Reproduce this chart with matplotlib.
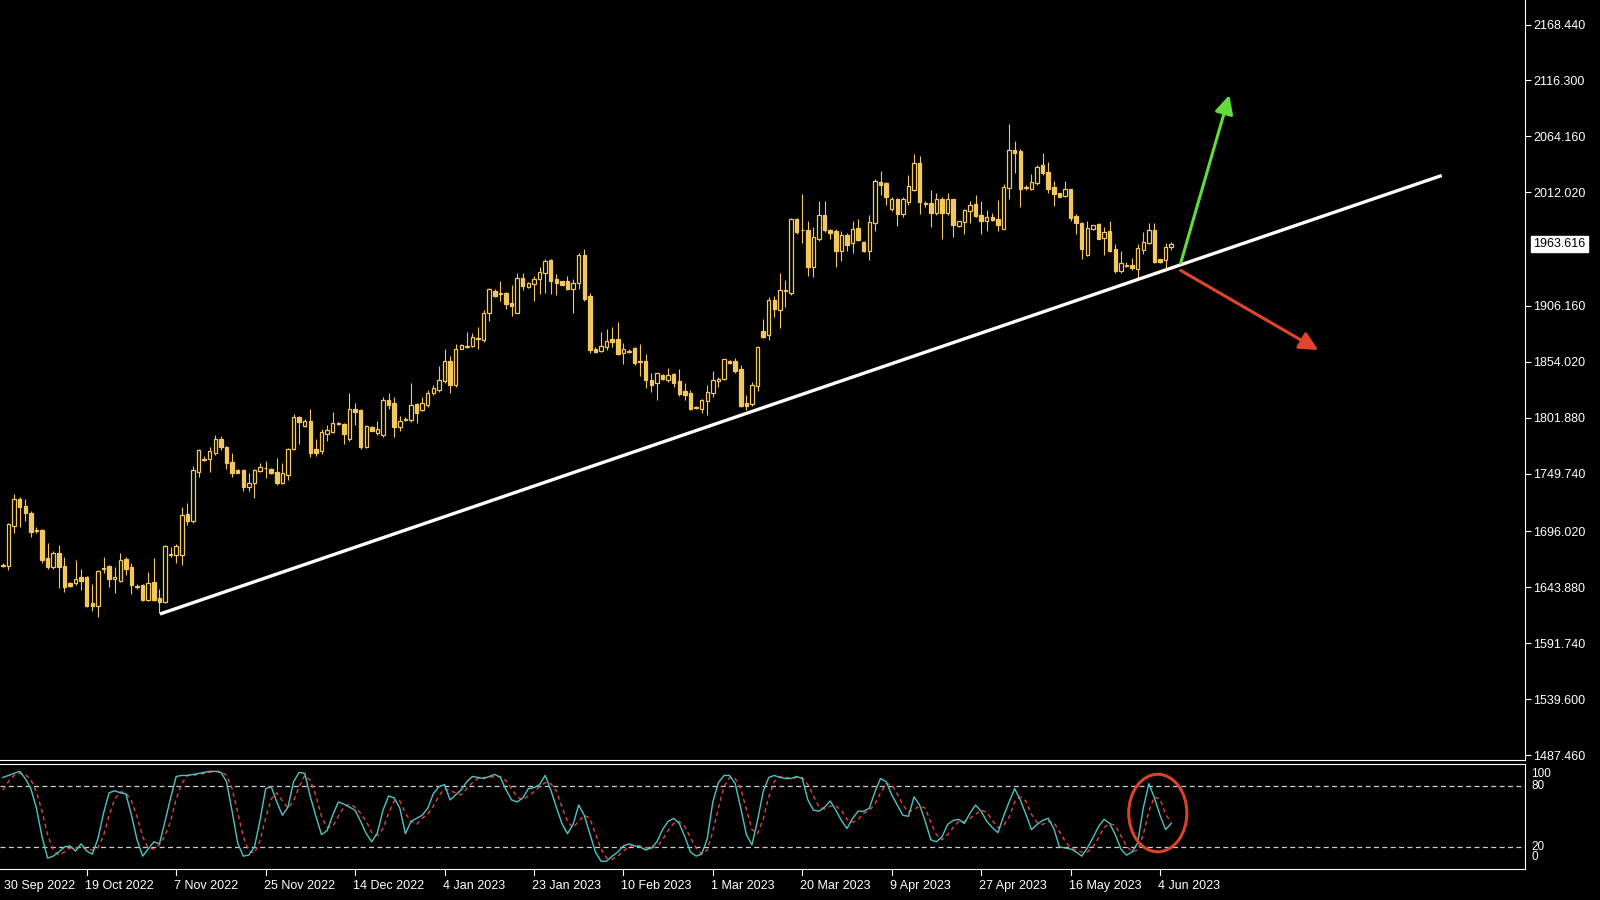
"""Gold daily chart with rising trendline and stochastic oscillator (MT4 look)."""

import matplotlib
matplotlib.use("Agg")
from matplotlib import pyplot as plt
from matplotlib.patches import Ellipse
from matplotlib.transforms import blended_transform_factory, offset_copy
import numpy as np

# ---- data --------------------------------------------------------------
first_bar = 1  # bar 0 is the 30 Sep 2022 candle, just off the left edge

opens = [
    1663.6, 1663.6, 1700.9, 1726.4, 1719.5, 1713.3, 1696.6, 1697.2, 1670.8, 1663.0,
    1675.4, 1663.9, 1648.1, 1647.5, 1653.1, 1653.7, 1628.8, 1626.3, 1661.8, 1663.6,
    1651.8, 1649.3, 1669.8, 1662.4, 1645.0, 1645.6, 1631.9, 1648.7, 1633.8, 1630.1,
    1673.6, 1674.2, 1674.2, 1712.1, 1705.9, 1751.6, 1762.5, 1763.1, 1769.3, 1782.4,
    1774.9, 1760.6, 1753.2, 1753.2, 1737.6, 1740.7, 1751.9, 1754.7, 1754.4, 1751.6,
    1740.7, 1748.2, 1772.4, 1802.9, 1794.2, 1799.1, 1772.4, 1770.6, 1786.7, 1788.6,
    1796.3, 1796.0, 1781.7, 1810.3, 1809.1, 1774.3, 1792.9, 1787.3, 1785.8, 1818.4,
    1815.3, 1792.9, 1800.1, 1799.8, 1814.7, 1809.1, 1813.4, 1824.6, 1827.7, 1836.4,
    1855.1, 1832.1, 1866.3, 1868.1, 1868.7, 1875.6, 1874.4, 1899.2, 1920.3, 1917.8,
    1918.4, 1909.1, 1899.8, 1932.1, 1923.4, 1926.6, 1931.5, 1936.5, 1948.9, 1931.5,
    1929.6, 1929.0, 1922.2, 1927.2, 1953.3, 1915.4, 1866.3, 1864.4, 1868.1, 1875.6,
    1875.6, 1861.9, 1863.1, 1866.9, 1854.1, 1854.4, 1837.0, 1834.6, 1842.0, 1837.0,
    1842.6, 1835.8, 1826.5, 1825.2, 1811.3, 1810.3, 1817.1, 1825.2, 1836.4, 1837.7,
    1855.0, 1854.4, 1847.0, 1815.9, 1814.7, 1831.4, 1883.0, 1878.7, 1911.6, 1902.3,
    1920.3, 1918.5, 1986.8, 1976.6, 1976.9, 1942.7, 1968.8, 1991.2, 1976.9, 1975.6,
    1957.0, 1972.5, 1964.5, 1978.7, 1965.7, 1957.0, 1983.7, 2021.6, 2020.4, 1996.1,
    2005.5, 1991.8, 2003.0, 2014.2, 2039.6, 2002.0, 2002.4, 1992.4, 2005.5, 1993.0,
    2005.5, 1980.6, 1984.3, 1994.9, 2001.1, 1990.5, 1985.0, 1989.3, 1987.4, 1978.1,
    2016.0, 2051.5, 2050.2, 2016.3, 2015.4, 2020.4, 2037.2, 2030.9, 2016.7, 2011.1,
    2008.6, 2014.8, 1989.9, 1983.1, 1953.9, 1977.5, 1982.5, 1969.4, 1975.6, 1959.5,
    1938.4, 1943.6, 1944.0, 1940.8, 1958.2, 1965.1, 1976.9, 1949.5, 1948.9, 1960.7,
]
highs = [
    1666.1, 1704.0, 1730.7, 1728.2, 1725.8, 1714.6, 1700.3, 1697.8, 1684.7, 1677.9,
    1682.9, 1671.7, 1648.7, 1669.2, 1660.5, 1654.3, 1646.8, 1659.9, 1671.7, 1664.5,
    1663.0, 1675.4, 1671.7, 1666.7, 1646.8, 1646.8, 1658.0, 1671.1, 1642.5, 1682.9,
    1681.0, 1684.1, 1718.3, 1722.7, 1756.9, 1773.1, 1766.2, 1774.9, 1786.1, 1784.9,
    1775.5, 1768.7, 1753.8, 1753.8, 1750.1, 1753.8, 1759.4, 1761.9, 1755.0, 1764.3,
    1759.4, 1773.7, 1805.4, 1803.5, 1800.4, 1809.7, 1781.7, 1791.1, 1795.4, 1807.2,
    1797.9, 1796.7, 1824.6, 1815.3, 1809.7, 1794.8, 1794.2, 1799.1, 1820.9, 1824.6,
    1821.5, 1803.5, 1802.9, 1833.9, 1815.3, 1821.5, 1827.7, 1832.1, 1850.1, 1866.3,
    1859.4, 1870.6, 1870.6, 1881.8, 1880.6, 1886.2, 1902.3, 1922.8, 1921.6, 1929.0,
    1919.1, 1925.9, 1936.5, 1937.1, 1928.4, 1934.0, 1942.7, 1949.5, 1950.2, 1935.9,
    1929.6, 1934.0, 1930.9, 1955.7, 1958.9, 1917.8, 1868.1, 1881.8, 1884.9, 1886.7,
    1891.1, 1871.8, 1865.6, 1868.1, 1870.6, 1861.3, 1843.3, 1843.9, 1842.6, 1848.2,
    1843.3, 1847.0, 1833.9, 1827.7, 1812.8, 1819.6, 1832.1, 1845.1, 1839.5, 1856.9,
    1855.7, 1857.5, 1851.3, 1823.4, 1835.2, 1868.7, 1893.6, 1914.7, 1915.4, 1937.1,
    1930.3, 1988.1, 1988.1, 2010.4, 1985.0, 1979.4, 2003.6, 2003.6, 1977.5, 1978.1,
    1976.3, 1973.8, 1985.0, 1987.4, 1966.9, 1990.5, 2024.7, 2032.2, 2021.6, 2007.3,
    2006.7, 2007.3, 2027.8, 2047.7, 2045.9, 2003.6, 2014.2, 2011.7, 2008.0, 2011.7,
    2005.5, 1985.6, 1996.7, 2003.6, 2009.8, 2003.6, 1995.5, 1992.4, 2004.8, 2019.8,
    2075.7, 2059.5, 2052.7, 2018.5, 2029.1, 2037.2, 2048.4, 2040.3, 2022.9, 2011.7,
    2022.9, 2015.4, 1991.8, 1984.3, 1985.0, 1981.9, 1983.1, 1979.4, 1985.0, 1963.8,
    1957.6, 1947.1, 1950.8, 1963.8, 1975.0, 1983.1, 1983.1, 1950.2, 1964.5, 1965.7,
]
lows = [
    1662.4, 1659.9, 1694.7, 1700.3, 1705.9, 1690.3, 1694.1, 1666.1, 1661.1, 1661.1,
    1642.8, 1639.4, 1643.7, 1645.6, 1641.2, 1625.7, 1622.0, 1616.4, 1656.8, 1643.7,
    1638.1, 1648.7, 1654.9, 1637.5, 1642.5, 1631.3, 1631.3, 1631.3, 1619.5, 1629.4,
    1672.3, 1666.1, 1664.9, 1701.5, 1704.0, 1747.0, 1761.2, 1751.6, 1766.8, 1771.8,
    1753.8, 1747.0, 1750.1, 1733.9, 1733.9, 1726.7, 1751.3, 1745.4, 1749.4, 1739.2,
    1740.1, 1743.8, 1771.8, 1777.4, 1792.9, 1765.0, 1766.2, 1768.1, 1780.5, 1787.3,
    1795.4, 1777.4, 1780.5, 1795.1, 1772.4, 1773.7, 1789.2, 1785.8, 1784.2, 1810.3,
    1783.6, 1789.8, 1798.5, 1798.2, 1796.7, 1808.5, 1812.2, 1822.8, 1825.9, 1833.9,
    1825.2, 1830.9, 1865.6, 1866.9, 1867.5, 1866.3, 1872.5, 1892.4, 1914.7, 1910.4,
    1902.9, 1896.7, 1899.2, 1920.9, 1922.8, 1911.0, 1917.2, 1918.5, 1917.2, 1916.0,
    1925.3, 1920.9, 1899.2, 1921.6, 1911.0, 1862.5, 1861.9, 1863.1, 1865.0, 1868.1,
    1860.0, 1851.9, 1861.9, 1850.7, 1840.8, 1829.6, 1826.2, 1818.4, 1837.0, 1835.2,
    1830.8, 1822.1, 1818.4, 1809.1, 1810.3, 1806.0, 1804.4, 1821.5, 1830.2, 1837.0,
    1851.9, 1843.9, 1812.2, 1809.1, 1812.8, 1827.1, 1876.2, 1874.4, 1896.1, 1885.2,
    1905.4, 1916.6, 1973.2, 1964.5, 1934.0, 1932.8, 1966.3, 1975.0, 1968.2, 1942.7,
    1948.3, 1957.6, 1955.1, 1966.3, 1956.4, 1948.9, 1976.3, 2009.2, 1999.9, 1994.9,
    1980.6, 1988.7, 1999.9, 2013.5, 1991.8, 1998.6, 1980.0, 1990.5, 1968.2, 1990.5,
    1970.7, 1980.0, 1973.2, 1983.1, 1988.7, 1973.2, 1976.3, 1985.6, 1976.3, 1977.5,
    2006.1, 2029.7, 1998.0, 2014.2, 2014.2, 2019.1, 2027.8, 2011.1, 1999.2, 2007.3,
    2007.3, 1985.6, 1973.2, 1950.2, 1952.7, 1976.9, 1968.2, 1953.3, 1956.4, 1936.5,
    1936.5, 1942.7, 1939.6, 1932.1, 1954.5, 1963.8, 1946.4, 1946.4, 1940.8, 1958.2,
]
closes = [
    1664.9, 1702.8, 1725.8, 1718.9, 1712.7, 1695.3, 1697.2, 1669.2, 1662.4, 1675.4,
    1663.0, 1643.7, 1645.0, 1651.2, 1649.3, 1626.3, 1626.3, 1659.3, 1660.5, 1651.8,
    1653.1, 1669.2, 1661.1, 1645.9, 1644.3, 1631.9, 1648.1, 1631.9, 1630.1, 1682.3,
    1674.8, 1682.3, 1711.5, 1705.9, 1753.2, 1771.8, 1763.4, 1770.6, 1781.7, 1774.3,
    1759.4, 1750.1, 1750.7, 1737.6, 1741.3, 1753.2, 1756.3, 1755.3, 1750.7, 1740.7,
    1750.1, 1773.1, 1802.2, 1798.2, 1799.1, 1768.7, 1768.7, 1788.6, 1790.4, 1797.3,
    1797.0, 1786.7, 1809.7, 1807.2, 1774.3, 1794.2, 1789.8, 1791.1, 1818.4, 1813.4,
    1792.9, 1799.1, 1800.7, 1813.4, 1806.0, 1815.3, 1825.2, 1829.6, 1837.1, 1854.5,
    1832.4, 1865.6, 1870.0, 1869.1, 1876.8, 1876.5, 1899.8, 1921.6, 1915.4, 1916.9,
    1907.9, 1906.0, 1932.1, 1924.7, 1927.8, 1930.9, 1937.7, 1948.3, 1929.6, 1927.8,
    1925.9, 1922.2, 1927.8, 1953.3, 1912.9, 1865.0, 1863.2, 1868.7, 1873.7, 1872.5,
    1861.3, 1865.6, 1863.7, 1852.6, 1854.4, 1837.0, 1832.1, 1843.3, 1837.7, 1841.4,
    1834.6, 1824.0, 1823.4, 1810.3, 1811.9, 1818.4, 1825.8, 1837.0, 1838.3, 1856.3,
    1852.6, 1845.7, 1812.8, 1812.8, 1832.1, 1867.5, 1876.8, 1911.6, 1902.9, 1921.0,
    1921.3, 1987.4, 1975.0, 1977.2, 1942.1, 1970.0, 1990.5, 1976.9, 1974.4, 1957.0,
    1971.9, 1963.2, 1978.1, 1967.6, 1957.0, 1984.3, 2022.2, 2019.1, 2008.0, 2006.1,
    1991.8, 2006.1, 2017.9, 2039.6, 2003.0, 2001.4, 1993.0, 2005.5, 1993.0, 2005.5,
    1981.9, 1985.0, 1995.5, 2000.5, 1989.9, 1985.0, 1989.3, 1986.2, 1981.2, 2016.7,
    2051.5, 2048.4, 2015.4, 2017.0, 2021.6, 2035.9, 2029.7, 2015.4, 2010.4, 2008.0,
    2014.8, 1988.1, 1983.1, 1958.9, 1978.7, 1981.2, 1968.8, 1975.0, 1957.6, 1938.4,
    1946.4, 1944.3, 1941.5, 1960.1, 1965.7, 1976.9, 1947.1, 1947.1, 1960.7, 1963.616,
]

# stochastic oscillator: main line and dashed signal line
stoch_main = [
    88, 90, 92, 94, 87, 77, 58, 30, 9, 11, 15, 20, 21, 16, 23, 16, 13, 28, 53, 73,
    75, 73, 72, 51, 27, 11, 18, 25, 23, 45, 68, 89, 90, 90, 91, 92, 93, 94, 94, 93,
    84, 55, 24, 11, 12, 20, 46, 77, 79, 64, 51, 59, 84, 93, 92, 69, 50, 32, 36, 51,
    64, 62, 59, 56, 45, 33, 25, 34, 56, 70, 68, 58, 33, 45, 48, 51, 58, 72, 79, 81,
    66, 71, 76, 84, 89, 88, 87, 89, 91, 88, 76, 66, 64, 68, 77, 78, 81, 90, 76, 59,
    43, 33, 42, 61, 51, 33, 15, 6, 6, 11, 15, 21, 23, 21, 20, 17, 19, 25, 37, 45,
    48, 43, 30, 15, 11, 13, 28, 64, 83, 90, 90, 82, 58, 32, 22, 46, 74, 88, 90, 88,
    87, 87, 89, 87, 66, 56, 55, 59, 65, 56, 46, 38, 48, 55, 55, 58, 74, 87, 84, 71,
    61, 51, 50, 69, 61, 45, 27, 25, 30, 42, 46, 47, 43, 53, 61, 55, 45, 39, 34, 50,
    64, 77, 66, 52, 37, 42, 46, 48, 38, 20, 19, 18, 15, 11, 19, 29, 40, 47, 43, 32,
    18, 12, 15, 24, 58, 82, 68, 51, 37, 43,
]
stoch_signal = [
    76, 84, 90, 92, 91, 86, 74, 55, 32, 17, 12, 15, 19, 19, 20, 18, 17, 19, 31, 51,
    67, 74, 73, 65, 50, 30, 19, 18, 22, 31, 45, 67, 82, 90, 90, 91, 92, 93, 94, 94,
    90, 77, 54, 30, 16, 14, 26, 48, 67, 73, 65, 58, 65, 79, 90, 85, 70, 50, 39, 40,
    50, 59, 62, 59, 53, 45, 34, 31, 38, 53, 65, 65, 53, 45, 42, 48, 52, 60, 70, 77,
    75, 73, 71, 77, 83, 87, 88, 88, 89, 89, 85, 77, 69, 66, 70, 74, 79, 83, 82, 75,
    59, 45, 39, 45, 51, 48, 33, 18, 9, 8, 11, 16, 20, 22, 21, 19, 19, 20, 27, 36,
    43, 45, 40, 29, 19, 13, 17, 35, 58, 79, 88, 87, 77, 57, 37, 33, 47, 69, 84, 89,
    88, 87, 88, 88, 81, 70, 59, 57, 60, 60, 56, 47, 44, 47, 53, 56, 62, 73, 82, 81,
    72, 61, 54, 57, 60, 58, 44, 32, 27, 32, 39, 45, 45, 48, 52, 56, 54, 46, 39, 41,
    49, 64, 69, 65, 52, 44, 42, 45, 44, 35, 26, 19, 17, 15, 15, 20, 29, 39, 43, 41,
    31, 21, 15, 17, 32, 55, 69, 67, 52, 44,
]
stoch_levels = [80, 20]
stoch_labels = ["100", "80", "20", "0"]

current_price = 1963.616
price_ticks = [2168.44, 2116.30, 2064.16, 2012.02, 1906.16, 1854.02, 1801.88,
               1749.74, 1696.02, 1643.88, 1591.74, 1539.60, 1487.46]

date_bars = [0, 16, 32, 48, 64, 80, 96, 112, 128, 144, 160, 176, 192, 208]
date_labels = ["30 Sep 2022", "19 Oct 2022", "7 Nov 2022", "25 Nov 2022",
               "14 Dec 2022", "4 Jan 2023", "23 Jan 2023", "10 Feb 2023",
               "1 Mar 2023", "20 Mar 2023", "9 Apr 2023", "27 Apr 2023",
               "16 May 2023", "4 Jun 2023"]

# drawn objects, in (bar, price) / (bar, oscillator value)
trend_x = [29.1, 258.4]
trend_y = [1618.9, 2027.7]
up_arrow = ((211.7, 1946.1), (220.4, 2102.7))
down_arrow = ((211.7, 1939.2), (236.3, 1865.0))
circle_center = (207.6, 53.2)

# ---- style --------------------------------------------------------------
CANDLE = "#f2c85e"
BG = "black"
FG = "white"
FONT = ["Liberation Sans", "DejaVu Sans"]
XLIM = (0.483, 273.29)

plt.rcParams["font.family"] = FONT

fig = plt.figure(figsize=(16, 9), dpi=100, facecolor=BG)
ax = fig.add_axes([0, 1 - 759.7 / 900, 1525 / 1600, 759.7 / 900], facecolor=BG)
osc = fig.add_axes([0, 1 - 869 / 900, 1525 / 1600, 105.3 / 900], facecolor=BG)

# ---- candles ------------------------------------------------------------
o, h, l, c = (np.array(a) for a in (opens, highs, lows, closes))
bars = np.arange(first_bar, first_bar + len(c))
bull = c >= o
bottom = np.minimum(o, c)
height = np.maximum(np.abs(c - o), 0.3)

ax.vlines(bars, l, h, color=CANDLE, lw=0.8, zorder=2)
ax.bar(bars[bull], height[bull], bottom=bottom[bull], width=0.62,
       facecolor=BG, edgecolor=CANDLE, lw=0.9, zorder=3)
ax.bar(bars[~bull], height[~bull], bottom=bottom[~bull], width=0.62,
       facecolor=CANDLE, edgecolor=CANDLE, lw=0.9, zorder=3)

ax.plot(trend_x, trend_y, color=FG, lw=2.4, solid_capstyle="butt", zorder=4)
for (start, end), col in ((up_arrow, "#62dc3c"), (down_arrow, "#e3452c")):
    ax.annotate("", xy=end, xytext=start, zorder=5,
                arrowprops=dict(arrowstyle="-|>,head_length=0.7,head_width=0.35",
                                color=col, lw=2.2, shrinkA=0, shrinkB=0,
                                mutation_scale=16))

ax.set_xlim(*XLIM)
ax.set_ylim(1483.09, 2191.28)
ax.set_xticks([])
ax.yaxis.tick_right()
ax.set_yticks(price_ticks, [f"{p:.3f}" for p in price_ticks])
ax.tick_params(axis="y", colors=FG, labelsize=9, length=4, width=0.8, pad=2)
for side in ("left", "top"):
    ax.spines[side].set_visible(False)
for side in ("right", "bottom"):
    ax.spines[side].set_color(FG)
    ax.spines[side].set_linewidth(0.8)

ax.annotate(f"{current_price:.3f}", xy=(1.0, current_price),
            xycoords=("axes fraction", "data"), xytext=(6, 0),
            textcoords="offset points", ha="left", va="center",
            fontsize=9, color="black", annotation_clip=False,
            bbox=dict(boxstyle="square,pad=0.18", facecolor=FG, edgecolor=FG))

# ---- stochastic ---------------------------------------------------------
for lvl in stoch_levels:
    osc.axhline(lvl, color="#cfcfcf", lw=0.9, ls=(0, (4, 2.7)), zorder=1)
osc.plot(bars, stoch_main, color="#4fc4c4", lw=1.0, zorder=3)
osc.plot(bars, stoch_signal, color="#e0443c", lw=1.0, ls=(0, (3, 2.5)), zorder=2)
osc.add_patch(Ellipse(circle_center, width=10.4, height=75.9, fill=False,
                      edgecolor="#d9432b", lw=2.2, zorder=4))

osc.set_xlim(*XLIM)
osc.set_ylim(-1.6, 101.5)
osc.set_xticks([])
osc.set_yticks([])
osc.spines["left"].set_visible(False)
for side in ("right", "bottom", "top"):
    osc.spines[side].set_color(FG)
    osc.spines[side].set_linewidth(0.8)

# MT4 squeezes the 100 / 0 labels inside the sub-window
ytrans = offset_copy(blended_transform_factory(osc.transAxes, osc.transData),
                     fig, x=6, units="dots")
for lab, yv in zip(stoch_labels, (91, 80, 20, 10)):
    osc.text(1.0, yv, lab, transform=ytrans, ha="left", va="center",
             fontsize=8.5, color=FG)

xtrans = blended_transform_factory(osc.transData, osc.transAxes)
for b, lab in zip(date_bars, date_labels):
    osc.plot([b, b], [-0.06, 0], transform=xtrans, color=FG, lw=0.8,
             clip_on=False)
    # first label is pushed just inside the left edge so it is not cut
    dx = 4 if b == date_bars[0] else -2
    osc.text(max(b, XLIM[0]), -0.16, lab,
             transform=offset_copy(xtrans, fig, x=dx, units="dots"),
             ha="left", va="center", fontsize=9, color=FG, clip_on=False)

fig.savefig("out.png", dpi=100, facecolor=BG)
